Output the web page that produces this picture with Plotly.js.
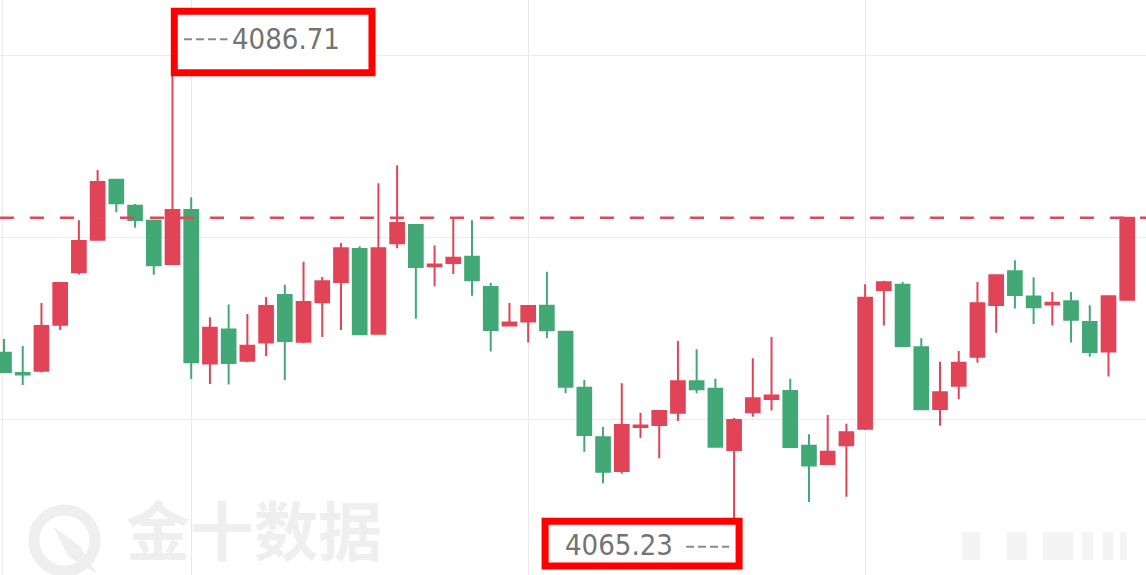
<!DOCTYPE html>
<html>
<head>
<meta charset="utf-8">
<script src="https://cdn.plot.ly/plotly-3.0.1.min.js"></script>
<style>
  html, body { margin: 0; padding: 0; background: #ffffff; }
  #chart { width: 1146px; height: 575px; }
</style>
</head>
<body>
<div id="chart"></div>
<script>
// ---- data ----
const opens = [4073.46,4072.60,4072.70,4074.65,4076.87,4078.25,4080.79,4079.69,4079.05,4077.22,
  4079.51,4073.01,4074.45,4073.12,4073.89,4075.91,4073.93,4075.60,4076.46,4077.86,
  4074.27,4078.10,4078.87,4077.12,4077.26,4077.53,4076.25,4074.62,4074.78,4075.45,
  4074.35,4071.98,4069.88,4068.45,4070.31,4070.40,4070.92,4072.25,4071.94,4069.34,
  4070.94,4071.50,4071.84,4069.52,4068.75,4069.54,4070.24,4076.12,4076.34,4073.69,
  4071.08,4072.06,4073.29,4075.48,4076.91,4075.84,4075.51,4075.64,4074.76,4073.51,
  4075.71];
const highs = [4074.04,4073.75,4075.57,4076.46,4079.07,4081.20,4080.82,4079.76,4079.08,4086.71,
  4080.05,4074.96,4075.51,4075.10,4075.82,4076.34,4077.32,4076.67,4078.11,4077.97,
  4080.64,4081.40,4078.89,4078.00,4079.20,4079.07,4076.43,4075.57,4075.46,4076.89,
  4074.38,4072.31,4070.32,4072.17,4070.92,4071.01,4073.96,4073.61,4072.36,4070.70,
  4073.23,4074.13,4072.36,4070.01,4070.82,4070.45,4076.36,4076.51,4076.46,4074.07,
  4073.08,4073.54,4076.46,4076.76,4077.38,4076.66,4076.03,4076.03,4075.47,4075.89,
  4079.20];
const lows = [4072.62,4072.09,4072.62,4074.42,4076.78,4078.22,4079.41,4078.76,4076.77,4077.20,
  4072.35,4072.14,4072.12,4073.06,4073.32,4072.31,4073.86,4074.13,4074.42,4074.22,
  4074.25,4077.89,4074.90,4076.28,4076.80,4075.88,4073.51,4074.60,4073.89,4074.07,
  4071.74,4069.27,4067.93,4068.35,4069.85,4068.99,4070.57,4071.74,4069.46,4065.23,
  4070.75,4071.01,4069.45,4067.14,4068.73,4067.36,4070.19,4074.61,4073.73,4071.05,
  4070.37,4071.49,4073.04,4074.31,4075.34,4074.68,4074.61,4073.89,4073.29,4072.45,
  4075.70];
const closes = [4072.65,4072.54,4074.59,4076.42,4078.20,4080.69,4079.79,4079.08,4077.17,4079.51,
  4073.06,4074.52,4073.03,4073.76,4075.44,4073.96,4075.61,4076.49,4077.89,4074.24,
  4077.89,4078.96,4077.09,4077.20,4077.49,4076.53,4074.42,4074.74,4075.44,4074.41,
  4072.02,4069.98,4068.42,4070.40,4070.38,4070.99,4072.25,4071.91,4069.48,4070.61,
  4071.53,4071.65,4069.47,4068.68,4069.27,4070.09,4075.79,4076.45,4073.75,4071.07,
  4071.79,4073.04,4075.56,4076.74,4075.91,4075.39,4075.58,4074.86,4073.49,4075.85,
  4079.18];
const gridPrices = [4070.62, 4078.34, 4086.05];
const gridSlots = [-0.107, 10, 28, 46];
const watermarkText = '金十数据';

// ---- derived ----
const xs = opens.map((_, i) => i);
const hiVal = Math.max(...highs);
const hiIdx = highs.indexOf(hiVal);
const loVal = Math.min(...lows);
const loIdx = lows.indexOf(loVal);
const lastClose = closes[closes.length - 1];

const RED = '#e14456';
const GREEN = '#42a876';
const LABEL_FONT = '"DejaVu Sans Condensed", "DejaVu Sans", sans-serif';

const trace = {
  type: 'candlestick',
  x: xs, open: opens, high: highs, low: lows, close: closes,
  increasing: { line: { color: RED, width: 2 }, fillcolor: RED },
  decreasing: { line: { color: GREEN, width: 2 }, fillcolor: GREEN },
  whiskerwidth: 0,
  hoverinfo: 'skip',
  showlegend: false
};

const shapes = [
  // watermark logo ring
  { type: 'circle', xref: 'paper', yref: 'paper', xsizemode: 'pixel', ysizemode: 'pixel',
    xanchor: 0, yanchor: 1, x0: 34, x1: 95, y0: -571, y1: -510,
    line: { color: '#efefef', width: 11 }, layer: 'below' },
  { type: 'path', xref: 'paper', yref: 'paper', xsizemode: 'pixel', ysizemode: 'pixel',
    xanchor: 0, yanchor: 1, path: 'M 54,-527 L 80,-546 L 97,-574 L 68,-556 Z',
    fillcolor: '#efefef', line: { width: 0 }, layer: 'below' },
  // faint blurred marks bottom-right
  ...[[962,980],[1007,1027],[1043,1073],[1082,1093],[1103,1113],[1120,1127]].map(p => ({
    type: 'rect', xref: 'paper', yref: 'paper', xsizemode: 'pixel', ysizemode: 'pixel',
    xanchor: 0, yanchor: 1, x0: p[0], x1: p[1], y0: -560, y1: -532,
    fillcolor: 'rgba(215,215,215,0.28)', line: { width: 0 }, layer: 'below'
  })),
  // last price dashed line
  { type: 'line', xref: 'paper', x0: 0, x1: 1, yref: 'y', y0: lastClose, y1: lastClose,
    line: { color: '#e04757', width: 2.5, dash: '14px,16px' }, layer: 'above' },
  // top marker box
  { type: 'rect', xref: 'x', yref: 'y', xsizemode: 'pixel', ysizemode: 'pixel',
    xanchor: hiIdx, yanchor: hiVal, x0: 1.8, x1: 199.5, y0: -32.8, y1: 28.8,
    fillcolor: '#ffffff', line: { color: '#ff0000', width: 7 }, layer: 'above' },
  { type: 'line', xref: 'x', yref: 'y', xsizemode: 'pixel', ysizemode: 'pixel',
    xanchor: hiIdx, yanchor: hiVal, x0: 11.5, x1: 55, y0: 0.7, y1: 0.7,
    line: { color: '#8a8a8a', width: 2, dash: '8px,4px' }, layer: 'above' },
  // bottom marker box
  { type: 'rect', xref: 'x', yref: 'y', xsizemode: 'pixel', ysizemode: 'pixel',
    xanchor: loIdx, yanchor: loVal, x0: -189, x1: 5, y0: -19, y1: 25.7,
    fillcolor: '#ffffff', line: { color: '#ff0000', width: 7 }, layer: 'above' },
  { type: 'line', xref: 'x', yref: 'y', xsizemode: 'pixel', ysizemode: 'pixel',
    xanchor: loIdx, yanchor: loVal, x0: -48, x1: -5, y0: 0.3, y1: 0.3,
    line: { color: '#8a8a8a', width: 2, dash: '8px,4px' }, layer: 'above' }
];

const annotations = [
  { xref: 'paper', yref: 'paper', x: 254 / 1146, y: 1 / 575,
    text: '<b>' + watermarkText + '</b>', showarrow: false,
    xanchor: 'center', yanchor: 'bottom', borderpad: 0,
    font: { family: '"Noto Sans CJK SC", sans-serif', size: 64, color: '#efefef' } },
  { xref: 'x', yref: 'y', x: hiIdx, y: hiVal, text: hiVal.toFixed(2), showarrow: false,
    xanchor: 'left', yanchor: 'middle', xshift: 58, yshift: 1,
    font: { family: LABEL_FONT, size: 29, color: '#737373' } },
  { xref: 'x', yref: 'y', x: loIdx, y: loVal, text: loVal.toFixed(2), showarrow: false,
    xanchor: 'right', yanchor: 'middle', xshift: -59, yshift: 2.5,
    font: { family: LABEL_FONT, size: 29, color: '#737373' } }
];

const layout = {
  width: 1146, height: 575,
  margin: { l: 0, r: 0, t: 0, b: 0, pad: 0 },
  paper_bgcolor: '#ffffff', plot_bgcolor: 'rgba(0,0,0,0)',
  showlegend: false,
  hovermode: false,
  boxgap: 0.27, boxgroupgap: 0,
  xaxis: {
    type: 'linear', range: [-0.214, 61.004],
    rangeslider: { visible: false },
    tickmode: 'array', tickvals: gridSlots, showticklabels: false, ticks: '',
    showgrid: true, gridcolor: '#e9e9e9', gridwidth: 1,
    zeroline: false, showline: false, fixedrange: true
  },
  yaxis: {
    range: [4064.045, 4088.405],
    tickmode: 'array', tickvals: gridPrices, showticklabels: false, ticks: '',
    showgrid: true, gridcolor: '#ececec', gridwidth: 1,
    zeroline: false, showline: false, fixedrange: true
  },
  shapes: shapes,
  annotations: annotations
};

Plotly.newPlot('chart', [trace], layout, { displayModeBar: false, staticPlot: true });
</script>
</body>
</html>
